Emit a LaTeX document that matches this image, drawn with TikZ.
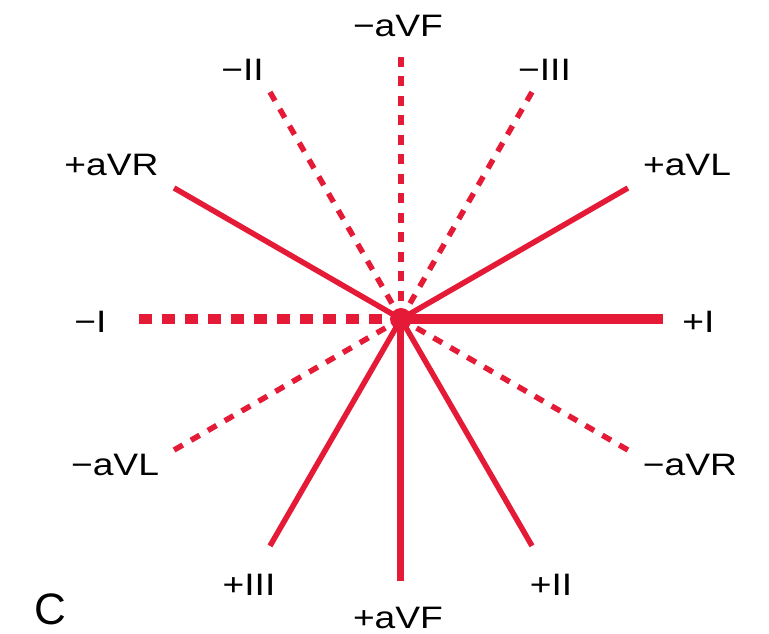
\documentclass[tikz,border=0pt]{standalone}
\usepackage{fontspec}
\setmainfont[FakeStretch=1.2]{Liberation Sans}
\newfontfamily\panelfont{Liberation Sans}
\usetikzlibrary{positioning}
\definecolor{leadred}{RGB}{228,26,55}

\begin{document}
\begin{tikzpicture}[x=1pt,y=1pt,
  lead/.style={leadred,line width=5.5pt},
  negl/.style={lead,dash pattern=on 10pt off 9.5pt},
  lab/.style={inner sep=0pt,font=\fontsize{31}{31}\selectfont}]
  \useasboundingbox (-401,-315) rectangle (368,319);
  \coordinate (O) at (0,0);
  % axis ends, every 30 degrees
  \foreach \a/\n in {0/pI,30/pL,60/mIII,90/mF,120/mII,150/pR,180/mI,210/mL,240/pIII,270/pF,300/pII,330/mR}
    \coordinate (\n) at (\a:262);
  % positive poles
  \draw[lead,line width=10pt] (O) -- (pI);
  \draw[lead] (O) -- (pL);
  \draw[lead] (O) -- (pR);
  \draw[lead] (O) -- (pII);
  \draw[lead] (O) -- (pIII);
  \draw[lead,line width=7pt] (O) -- (pF);
  % negative poles
  \draw[negl,line width=10pt,dash pattern=on 13pt off 10pt] (mI) -- (O);
  \draw[negl] (mII) -- (O);
  \draw[negl] (mIII) -- (O);
  \draw[negl] (mF) -- (O);
  \draw[negl] (mL) -- (O);
  \draw[negl] (mR) -- (O);
  \fill[leadred] (O) circle (11);
  % labels
  \node[lab] (lpI) at (297.5,-3) {+I};
  \node[lab] (lmI) at (-310.5,-3) {−I};
  \node[lab] (lpL) at (286,154) {+aVL};
  \node[lab] (lpR) at (-289.5,154.5) {+aVR};
  \node[lab] (lmIII) at (143.5,249) {−III};
  \node[lab] (lmII) at (-158.5,249) {−II};
  \node[lab] (lmF) at (-3,293) {−aVF};
  \node[lab] (lmL) at (-286,-146) {−aVL};
  \node[lab] (lmR) at (289,-146) {−aVR};
  \node[lab] (lpIII) at (-152,-266) {+III};
  \node[lab] (lpII) at (150,-266) {+II};
  \node[lab] (lpF) at (-3,-299) {+aVF};
  \node[inner sep=0pt,font=\panelfont\fontsize{44}{44}\selectfont] (panel) at (-351,-290) {C};
\end{tikzpicture}
\end{document}
